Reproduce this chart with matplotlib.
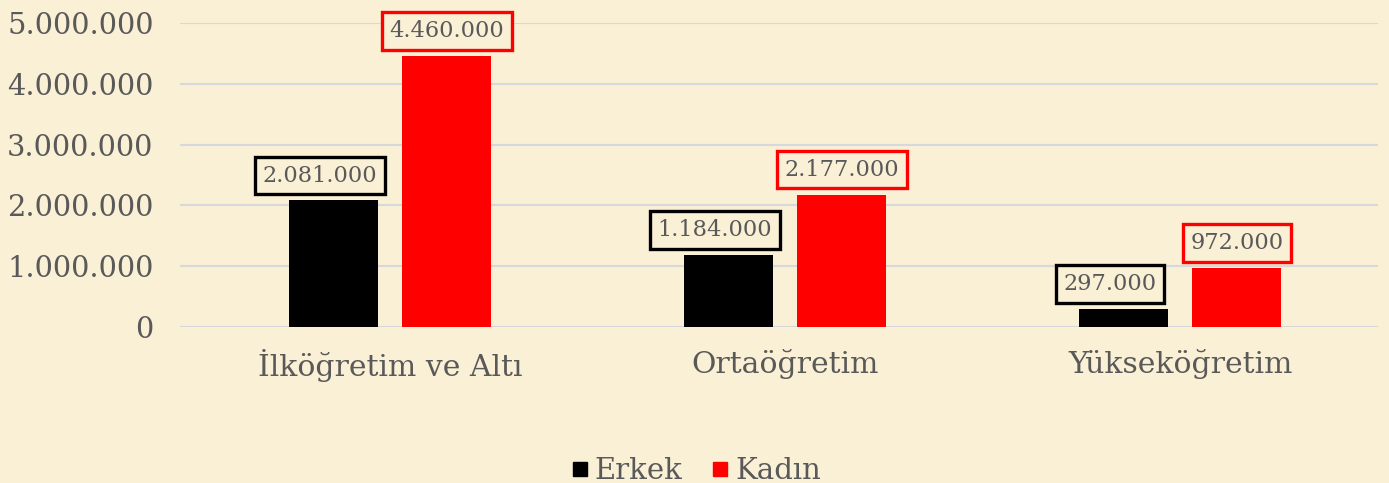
import matplotlib.pyplot as plt
import numpy as np
from matplotlib.lines import Line2D

categories = ["İlköğretim ve Altı", "Ortaöğretim", "Yükseköğretim"]
erkek = [2081000, 1184000, 297000]
kadin = [4460000, 2177000, 972000]
series_names = ["Erkek", "Kadın"]
yticks = [0, 1000000, 2000000, 3000000, 4000000, 5000000]

BG = "#FAF0D5"
TXT = "#595959"
COLORS = ["#000000", "#FF0000"]


def fmt(v):
    return f"{v:,}".replace(",", ".")


plt.rcParams["font.family"] = ["DejaVu Serif"]

fig = plt.figure(figsize=(13.89, 4.83), dpi=100, facecolor=BG)
ax = fig.add_axes([180 / 1389, 0.323, 1198 / 1389, 0.6294])
ax.set_facecolor(BG)

x = np.arange(len(categories))
w = 0.225
off = 0.143
for i, (vals, c) in enumerate(zip([erkek, kadin], COLORS)):
    pos = x - off if i == 0 else x + off
    ax.bar(pos, vals, width=w, color=c, zorder=3)
    dx = -10 if i == 0 else 0
    for px, v in zip(pos, vals):
        ax.annotate(fmt(v), (px, v), xytext=(dx, 10), textcoords="offset points",
                    ha="center", va="bottom", fontsize=16.2, color=TXT, zorder=4,
                    bbox=dict(boxstyle="square,pad=0.34", fc=BG, ec=c, lw=2.4))

ax.set_xlim(-0.532, len(categories) - 0.5)
ax.set_ylim(0, 5000000)
ax.set_yticks(yticks)
ax.set_yticklabels([fmt(v) for v in yticks])
ax.set_xticks(x)
ax.set_xticklabels(categories)
ax.tick_params(axis="y", length=0, pad=19, labelsize=20.8, labelcolor=TXT)
ax.tick_params(axis="x", length=0, pad=16, labelsize=21.5, labelcolor=TXT)
ax.grid(axis="y", color="#D6D8DC", lw=1.5, zorder=0)
for s in ax.spines.values():
    s.set_visible(False)

handles = [Line2D([], [], marker="s", ls="", color=c, markersize=10.5) for c in COLORS]
fig.legend(handles, series_names, loc="lower center", bbox_to_anchor=(0.5, -0.058),
           ncol=2, frameon=False, fontsize=21, labelcolor=TXT,
           handletextpad=0.1, columnspacing=0.9, handlelength=0.8)

fig.savefig("out.png", dpi=100, facecolor=BG)
